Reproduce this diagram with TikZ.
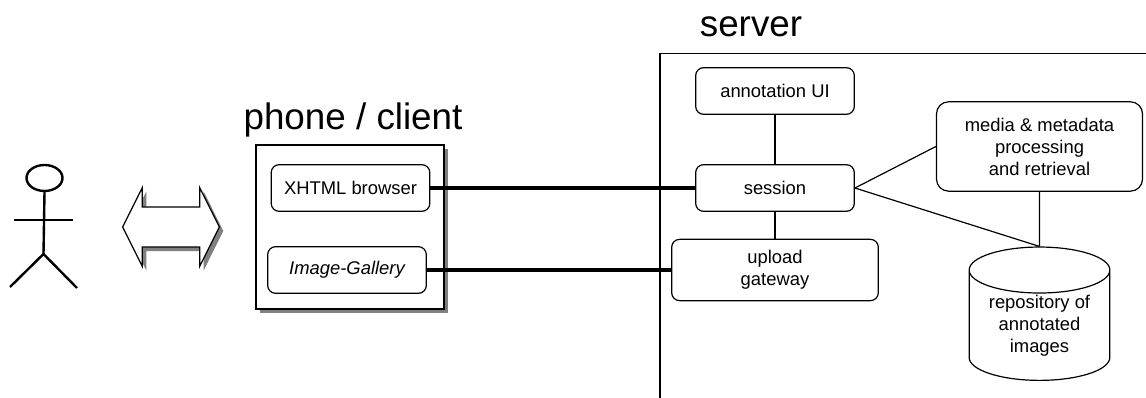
\documentclass[tikz,border=0pt]{standalone}
\usepackage{fontspec}
\setmainfont{Liberation Sans}
\usetikzlibrary{positioning,shapes.geometric,shapes.arrows,shadows}

\begin{document}
\begin{tikzpicture}[
  x=0.75pt, y=-0.75pt,
  node distance=36.85pt,
  box/.style={draw, rounded corners=6pt, align=center, inner sep=0pt, line width=0.9pt,
    font=\fontsize{13.8}{16.5}\selectfont},
  titletext/.style={inner sep=0pt, font=\fontsize{27.6}{32}\selectfont},
  wire/.style={line width=0.9pt},
  fatwire/.style={line width=3pt},
  stick/.style={line width=1.8pt},
  shade/.style={drop shadow={shadow xshift=3pt, shadow yshift=-3pt, fill=black!50, opacity=1}}
]
  \useasboundingbox (0,0) rectangle (1146,398);

  % actor
  \node[draw, ellipse, stick, minimum width=27pt, minimum height=19.5pt, inner sep=0pt] (head) at (44.5,178) {};
  \coordinate (hip) at (43.5,254);
  \coordinate (armL) at (14,220);
  \coordinate (armR) at (73,220);
  \coordinate (footL) at (10,287);
  \coordinate (footR) at (77,288);
  \draw[stick] (head.south) -- (hip);
  \draw[stick] (armL) -- (armR);
  \draw[stick] (footL) -- (hip) -- (footR);

  % two-way arrow
  \node[draw, double arrow, fill=white, shade, line width=0.9pt, minimum height=72.5pt,
    double arrow head extend=14.5pt, double arrow head indent=0pt, double arrow tip angle=127,
    inner xsep=0pt, inner ysep=14.6pt] (talk) at (171,227) {};

  % phone side
  \node[titletext] (phonetitle) at (353,120) {phone / client};
  \node[draw, fill=white, shade, line width=0.9pt, minimum width=141pt, minimum height=123pt, inner sep=0pt] (phone) at (350,227) {};
  \node[box, minimum width=119pt, minimum height=35pt] (browser) at (350.5,188) {XHTML browser};
  \node[box, minimum width=119pt, minimum height=35pt] (gallery) at (347,270) {\itshape Image-Gallery};

  % server side
  \node[titletext] (servertitle) at (751,27) {server};
  \coordinate (srvBL) at (660,398);
  \coordinate (srvTL) at (660,53.5);
  \coordinate (srvTR) at (1146,53.5);
  \draw[wire] (srvBL) -- (srvTL) -- (srvTR);

  \node[box, minimum width=119pt, minimum height=35pt] (ui) at (775,91) {annotation UI};
  \node[box, minimum width=119pt, minimum height=35pt, below=of ui] (session) {session};
  \node[box, minimum width=155pt, minimum height=46pt] (gateway) at (775,270) {upload\\gateway};
  \node[box, rounded corners=9pt, minimum width=154.5pt, minimum height=67pt] (media) at (1039.5,146.5) {media \& metadata\\processing\\and retrieval};
  \node[draw, cylinder, shape border rotate=90, aspect=0.454, line width=0.9pt, minimum width=105.5pt, minimum height=100pt,
    inner sep=0pt, align=center, font=\fontsize{13.8}{16.5}\selectfont] (repo) at (1039.5,325.5) {repository of\\annotated\\images};

  \draw[fatwire] (browser) -- (session);
  \draw[fatwire, line width=2.5pt] (gallery) -- (gateway);
  \draw[wire] (ui) -- (session);
  \draw[wire] (session) -- (gateway);
  \draw[wire] (session.east) -- (media.west);
  \draw[wire] (session.east) -- (repo.north);
  \draw[wire] (media) -- (repo.north);
\end{tikzpicture}
\end{document}
